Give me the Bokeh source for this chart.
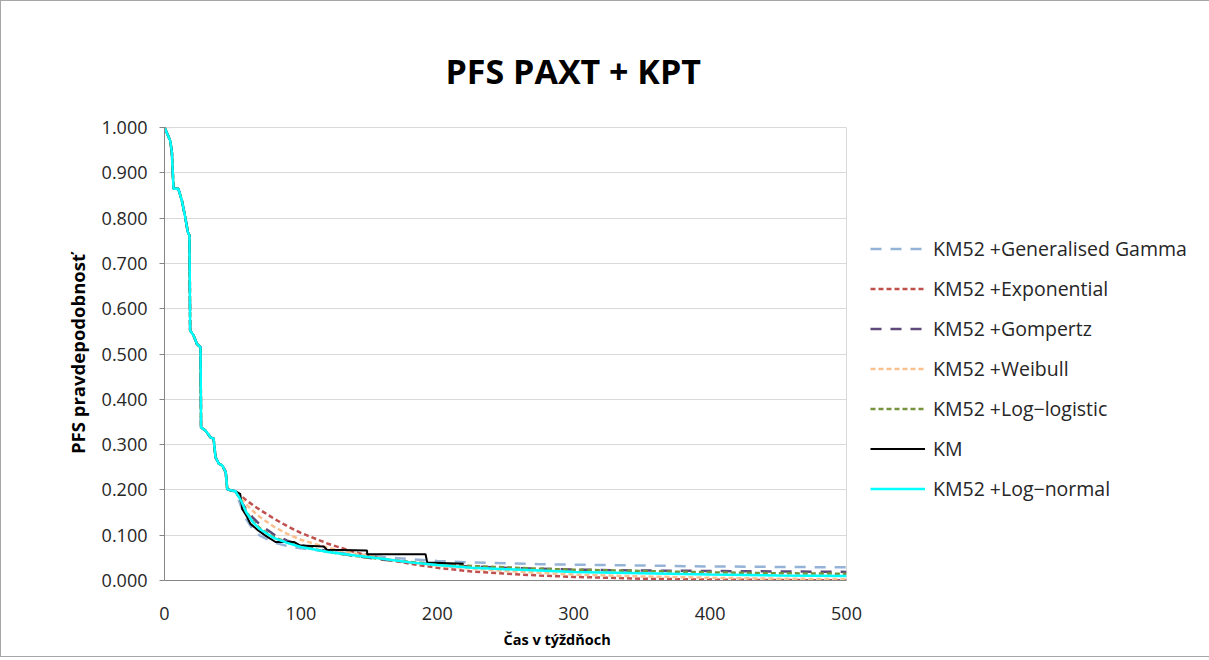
from bokeh.plotting import figure
from bokeh.models import Range1d, Legend, LegendItem, Title, FixedTicker, NumeralTickFormatter
from bokeh.embed import file_html
from bokeh.resources import INLINE

# ---- data ----
km_time = [0, 4.2, 5.4, 6.6, 10.1, 12.7, 15.2, 17.1, 18.3, 18.8, 21.3, 23.8, 26.4, 26.8,
           30, 33.7, 36, 37.4, 39.8, 42.3, 44.9, 46, 48.4, 52,
           55.5, 57, 60.6, 63, 69, 74, 81.4, 87.5, 94.8, 99.7, 116.8, 119, 148.5, 148.6,
           191.4, 192.6, 219.3]
km_surv = [1.0, 0.971, 0.945, 0.865, 0.865, 0.839, 0.802, 0.769, 0.762, 0.552, 0.541, 0.522, 0.515, 0.338,
           0.331, 0.316, 0.313, 0.272, 0.258, 0.254, 0.239, 0.202, 0.199, 0.197,
           0.191, 0.158, 0.140, 0.125, 0.110, 0.099, 0.085, 0.085, 0.085, 0.077, 0.075, 0.068, 0.066, 0.058,
           0.058, 0.040, 0.037]

fit_time = [52, 56, 60, 65, 70, 80, 90, 100, 120, 140, 160, 180, 200, 225, 250, 275, 300, 350, 400, 450, 500]
gen_gamma = [0.197, 0.165, 0.135, 0.112, 0.099, 0.084, 0.076, 0.071, 0.064, 0.058, 0.052, 0.047, 0.043,
             0.040, 0.038, 0.036, 0.035, 0.033, 0.031, 0.030, 0.029]
exponential = [0.197, 0.187, 0.177, 0.166, 0.156, 0.137, 0.120, 0.105, 0.081, 0.062, 0.048, 0.037, 0.028,
               0.020, 0.015, 0.011, 0.008, 0.004, 0.002, 0.001, 0.0005]
gompertz = [0.197, 0.175, 0.157, 0.138, 0.123, 0.102, 0.088, 0.078, 0.064, 0.054, 0.046, 0.040, 0.035,
            0.031, 0.028, 0.026, 0.024, 0.022, 0.021, 0.020, 0.019]
weibull = [0.197, 0.182, 0.168, 0.153, 0.140, 0.119, 0.103, 0.090, 0.072, 0.059, 0.049, 0.040, 0.033,
           0.026, 0.021, 0.017, 0.013, 0.009, 0.006, 0.004, 0.003]
log_logistic = [0.197, 0.176, 0.152, 0.130, 0.115, 0.096, 0.084, 0.075, 0.063, 0.054, 0.047, 0.041, 0.036,
                0.032, 0.029, 0.026, 0.024, 0.021, 0.018, 0.016, 0.015]
log_normal = [0.197, 0.177, 0.150, 0.128, 0.113, 0.094, 0.083, 0.074, 0.063, 0.055, 0.048, 0.040, 0.034,
              0.028, 0.025, 0.022, 0.019, 0.016, 0.013, 0.011, 0.010]

series_names = ["KM52 +Generalised Gamma", "KM52 +Exponential", "KM52 +Gompertz", "KM52 +Weibull",
                "KM52 +Log\u2212logistic", "KM", "KM52 +Log\u2212normal"]
y_ticks = [0.0, 0.1, 0.2, 0.3, 0.4, 0.5, 0.6, 0.7, 0.8, 0.9, 1.0]
x_ticks = [0, 100, 200, 300, 400, 500]

FONT = "Open Sans"

# KM part up to 52 weeks shared by the KM52 curves
km_head_t = [t for t in km_time if t < 52]
km_head_s = km_surv[:len(km_head_t)]

p = figure(frame_width=682, frame_height=453, output_backend="svg", toolbar_location=None,
           x_range=Range1d(0, 500), y_range=Range1d(0, 1),
           min_border_left=163, min_border_right=0, min_border_top=126, min_border_bottom=76)
p.styles = {"border": "1px solid #a6a6a6"}
p.background_fill_color = "white"
p.border_fill_color = "white"
p.outline_line_color = "#d9d9d9"

styles = [
    dict(color="#95b3d7", dash="11 9", width=2.5),
    dict(color="#c0504d", dash="5 3", width=2.5),
    dict(color="#5f497a", dash="11 9", width=2.5),
    dict(color="#fac090", dash="5 3", width=2.5),
    dict(color="#77933c", dash="5 3", width=2.5),
    dict(color="black", dash="solid", width=2),
    dict(color="#00ffff", dash="solid", width=2.5),
]
fits = [gen_gamma, exponential, gompertz, weibull, log_logistic, None, log_normal]

items = []
for name, st, fit in zip(series_names, styles, fits):
    if fit is None:
        xs, ys = km_time, km_surv
    else:
        xs, ys = km_head_t + fit_time, km_head_s + fit
    r = p.line(xs, ys, line_color=st["color"], line_width=st["width"], line_dash=st["dash"])
    items.append(LegendItem(label=name, renderers=[r]))

legend = Legend(items=items, location=(24, 78), border_line_color=None, background_fill_alpha=0,
                label_text_font=FONT, label_text_font_size="19.5px", label_text_color="#262626",
                glyph_width=55, glyph_height=25, label_height=25, spacing=13, padding=0, margin=0,
                label_standoff=8)
p.add_layout(legend, "right")

# axes
p.yaxis.ticker = FixedTicker(ticks=y_ticks)
p.xaxis.ticker = FixedTicker(ticks=x_ticks)
p.yaxis.formatter = NumeralTickFormatter(format="0.000")
for ax in (p.xaxis[0], p.yaxis[0]):
    ax.axis_line_color = "#868686"
    ax.axis_line_width = 1
    ax.major_label_text_font = FONT
    ax.major_label_text_font_size = "18px"
    ax.major_label_text_color = "#262626"
    ax.minor_tick_line_color = None
    ax.axis_label_text_font = FONT
    ax.axis_label_text_font_style = "bold"
    ax.axis_label_text_color = "black"
p.xaxis.major_tick_line_color = None
p.xaxis.major_label_standoff = 20
p.yaxis.major_tick_line_color = "#868686"
p.yaxis.major_tick_out = 5
p.yaxis.major_tick_in = 0
p.yaxis.major_label_standoff = 12
p.yaxis.axis_label = "PFS pravdepodobnos\u0165"
p.yaxis.axis_label_text_font_size = "18.5px"
p.yaxis.axis_label_standoff = 9

p.xgrid.grid_line_color = None
p.ygrid.grid_line_color = "#d9d9d9"
p.ygrid.grid_line_width = 1

# x axis title (offset to the right as in the reference)
p.add_layout(Title(text="\u010cas v t\u00fd\u017ed\u0148och", align="left", offset=339, standoff=11,
                   text_font=FONT, text_font_style="bold", text_font_size="14.5px", text_color="black"),
             "below")

# chart title
p.title = Title(text="PFS PAXT + KPT", align="left", offset=281, standoff=67,
                text_font=FONT, text_font_style="bold", text_font_size="34px", text_color="black")

open("out.html", "w").write(file_html(p, INLINE))
